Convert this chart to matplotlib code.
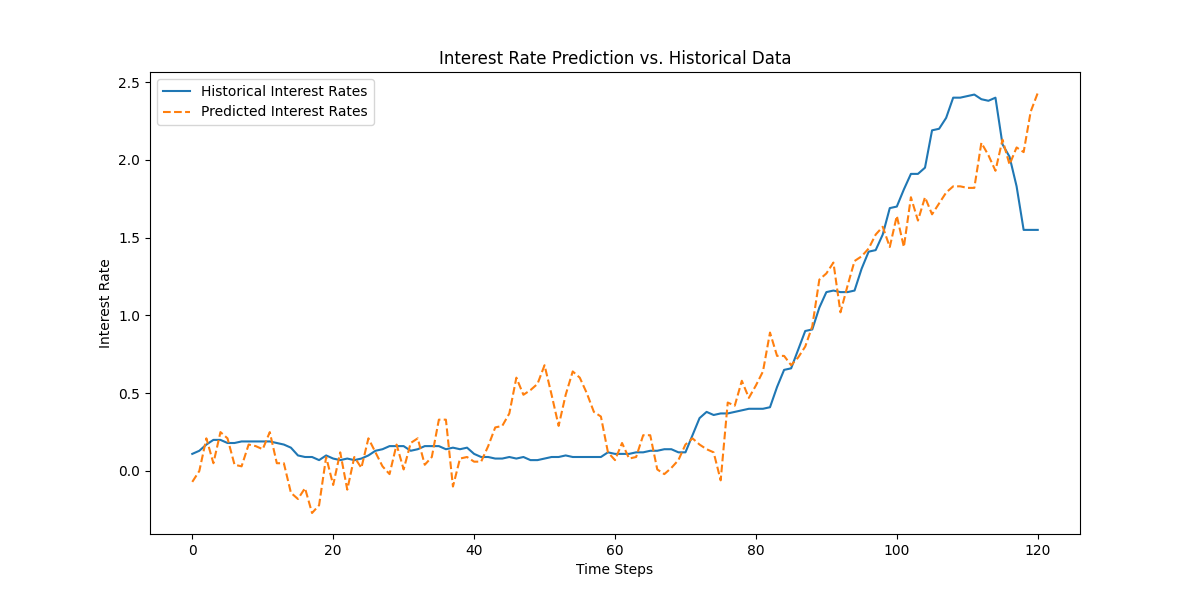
import matplotlib
matplotlib.use("Agg")
import matplotlib.pyplot as plt

historical = [0.11, 0.13, 0.17, 0.20, 0.20, 0.18, 0.18, 0.19, 0.19, 0.19,
              0.19, 0.19, 0.18, 0.17, 0.15, 0.10, 0.09, 0.09, 0.07, 0.10,
              0.08, 0.07, 0.08, 0.07, 0.08, 0.10, 0.13, 0.14, 0.16, 0.16,
              0.16, 0.13, 0.14, 0.16, 0.16, 0.16, 0.14, 0.15, 0.14, 0.15,
              0.11, 0.09, 0.09, 0.08, 0.08, 0.09, 0.08, 0.09, 0.07, 0.07,
              0.08, 0.09, 0.09, 0.10, 0.09, 0.09, 0.09, 0.09, 0.09, 0.12,
              0.11, 0.11, 0.11, 0.12, 0.12, 0.13, 0.13, 0.14, 0.14, 0.12,
              0.12, 0.23, 0.34, 0.38, 0.36, 0.37, 0.37, 0.38, 0.39, 0.40,
              0.40, 0.40, 0.41, 0.54, 0.65, 0.66, 0.78, 0.90, 0.91, 1.05,
              1.15, 1.16, 1.15, 1.15, 1.16, 1.30, 1.41, 1.42, 1.52, 1.69,
              1.70, 1.81, 1.91, 1.91, 1.95, 2.19, 2.20, 2.27, 2.40, 2.40,
              2.41, 2.42, 2.39, 2.38, 2.40, 2.10, 2.02, 1.83, 1.55, 1.55,
              1.55]

predicted = [-0.07, 0.00, 0.21, 0.05, 0.25, 0.21, 0.04, 0.03, 0.17, 0.16,
             0.14, 0.25, 0.05, 0.05, -0.14, -0.18, -0.11, -0.27, -0.22, 0.09,
             -0.09, 0.12, -0.12, 0.09, 0.02, 0.21, 0.12, 0.03, -0.02, 0.17,
             0.01, 0.18, 0.21, 0.04, 0.09, 0.33, 0.33, -0.10, 0.08, 0.09,
             0.06, 0.06, 0.16, 0.28, 0.29, 0.37, 0.60, 0.49, 0.52, 0.56,
             0.68, 0.49, 0.29, 0.49, 0.64, 0.60, 0.50, 0.38, 0.35, 0.12,
             0.07, 0.18, 0.08, 0.09, 0.23, 0.23, 0.01, -0.02, 0.02, 0.07,
             0.17, 0.21, 0.17, 0.14, 0.12, -0.06, 0.44, 0.42, 0.58, 0.47,
             0.55, 0.64, 0.89, 0.74, 0.74, 0.68, 0.73, 0.80, 0.93, 1.23,
             1.27, 1.34, 1.02, 1.19, 1.35, 1.38, 1.43, 1.52, 1.57, 1.44,
             1.64, 1.44, 1.76, 1.61, 1.76, 1.65, 1.72, 1.79, 1.83, 1.83,
             1.82, 1.82, 2.11, 2.03, 1.93, 2.13, 1.97, 2.08, 2.05, 2.31,
             2.43]

steps = list(range(len(historical)))

fig, ax = plt.subplots(figsize=(12, 6), dpi=100)
ax.plot(steps, historical, label='Historical Interest Rates')
ax.plot(steps, predicted, linestyle='--', label='Predicted Interest Rates')
ax.set_title('Interest Rate Prediction vs. Historical Data')
ax.set_xlabel('Time Steps')
ax.set_ylabel('Interest Rate')
ax.legend(loc='upper left')

plt.savefig('out.png')
